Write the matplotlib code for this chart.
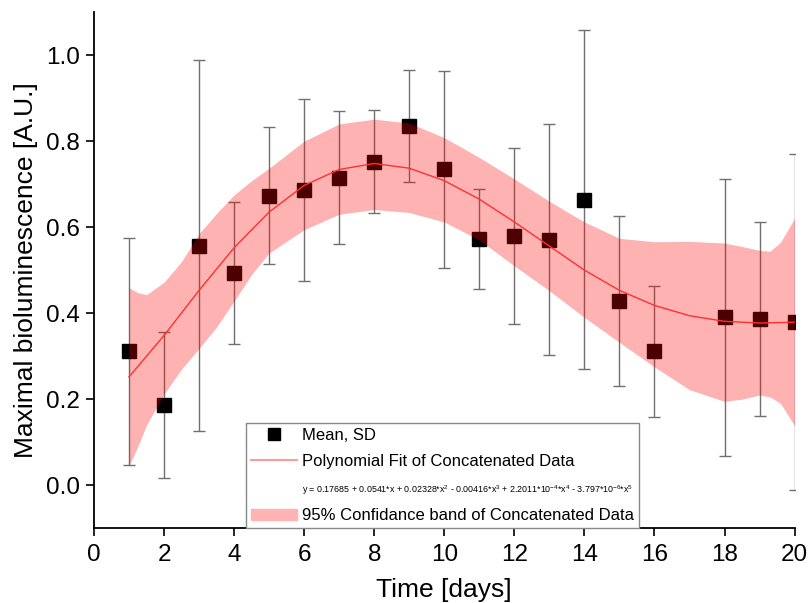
import matplotlib
matplotlib.use("Agg")
import matplotlib.pyplot as plt
from matplotlib.lines import Line2D
from matplotlib.patches import Patch

plt.rcParams['font.family'] = ['Liberation Sans', 'DejaVu Sans']
plt.rcParams['mathtext.default'] = 'regular'

# mean values with standard deviation (day 17 missing)
days = [1, 2, 3, 4, 5, 6, 7, 8, 9, 10, 11, 12, 13, 14, 15, 16, 18, 19, 20]
means = [0.311, 0.186, 0.557, 0.494, 0.673, 0.687, 0.715, 0.752, 0.835, 0.735,
         0.573, 0.580, 0.571, 0.664, 0.429, 0.311, 0.390, 0.387, 0.380]
sds = [0.263, 0.170, 0.432, 0.165, 0.159, 0.212, 0.154, 0.120, 0.130, 0.229,
       0.116, 0.205, 0.269, 0.394, 0.198, 0.152, 0.323, 0.225, 0.390]

# polynomial fit curve
fit_x = [1, 1.5, 2, 3, 4, 5, 6, 7, 8, 9, 10, 11, 12, 13, 14, 15, 16, 17, 18, 19, 20]
fit_y = [0.252, 0.300, 0.348, 0.453, 0.552, 0.635, 0.697, 0.734, 0.748, 0.737, 0.708,
         0.665, 0.612, 0.556, 0.500, 0.453, 0.418, 0.394, 0.381, 0.377, 0.379]

# 95% confidence band edges
band_x = [1.0, 1.25, 1.5, 2, 2.5, 3, 3.5, 4, 4.5, 5, 6, 7, 8, 9, 10, 11, 12, 13, 14,
          15, 16, 17, 18, 18.5, 19, 19.3, 19.6, 20]
band_hi = [0.459, 0.448, 0.443, 0.472, 0.520, 0.585, 0.632, 0.675, 0.708, 0.737, 0.800,
           0.840, 0.851, 0.842, 0.808, 0.762, 0.712, 0.660, 0.612, 0.574, 0.566, 0.567,
           0.563, 0.555, 0.546, 0.544, 0.565, 0.621]
band_lo = [0.045, 0.090, 0.140, 0.212, 0.270, 0.318, 0.368, 0.428, 0.490, 0.540, 0.594,
           0.630, 0.641, 0.634, 0.612, 0.570, 0.510, 0.452, 0.390, 0.332, 0.275, 0.222,
           0.195, 0.200, 0.210, 0.205, 0.190, 0.138]

equation = (r"y = 0.17685 + 0.0541*x + 0.02328*x$^{2}$ - 0.00416*x$^{3}$ + "
            r"2.2011*10$^{-4}$*x$^{4}$ - 3.797*10$^{-6}$*x$^{5}$")

fig = plt.figure(figsize=(8.1, 6.03), dpi=100)
ax = fig.add_axes([0.116, 0.124, 0.865, 0.856])

ax.errorbar(days, means, yerr=sds, fmt='s', color='black', markersize=9.5,
            ecolor='#707070', elinewidth=1, capsize=4, capthick=1, zorder=2)
ax.fill_between(band_x, band_lo, band_hi, color='red', alpha=0.3, linewidth=0, zorder=3)
ax.plot(fit_x, fit_y, color='#ff3030', linewidth=1, zorder=4)

ax.set_xlim(0, 20)
ax.set_ylim(-0.1, 1.1)
ax.set_xticks(range(0, 21, 2))
ax.set_yticks([0.0, 0.2, 0.4, 0.6, 0.8, 1.0])
ax.set_yticklabels(["0.0", "0.2", "0.4", "0.6", "0.8", "1.0"])
ax.tick_params(direction='out', length=6, width=1.2, labelsize=17.5, pad=4)
ax.tick_params(axis='x', pad=5)
for s in ['top', 'right']:
    ax.spines[s].set_visible(False)
for s in ['left', 'bottom']:
    ax.spines[s].set_linewidth(1.3)
ax.set_xlabel("Time [days]", fontsize=19, labelpad=9)
ax.set_ylabel("Maximal bioluminescence [A.U.]", fontsize=19, labelpad=6)

handles = [Line2D([], [], marker='s', color='black', linestyle='none', markersize=9),
           Line2D([], [], color='#ff8080', linewidth=1.2),
           Line2D([], [], linestyle='none'),
           Patch(facecolor='#ffb3b3', edgecolor='#ffb3b3')]
labels = ["Mean, SD", "Polynomial Fit of Concatenated Data", equation,
          "95% Confidance band of Concatenated Data"]
leg = ax.legend(handles, labels, loc='lower left', bbox_to_anchor=(0.217, 0.0),
                borderaxespad=0, fontsize=12, fancybox=False, framealpha=1,
                edgecolor='#888888', handlelength=2.75, handletextpad=0.3,
                labelspacing=0.7, borderpad=0.3)
leg.get_frame().set_linewidth(1)
leg.get_texts()[2].set_fontsize(6.4)

fig.savefig("out.png", dpi=100)
